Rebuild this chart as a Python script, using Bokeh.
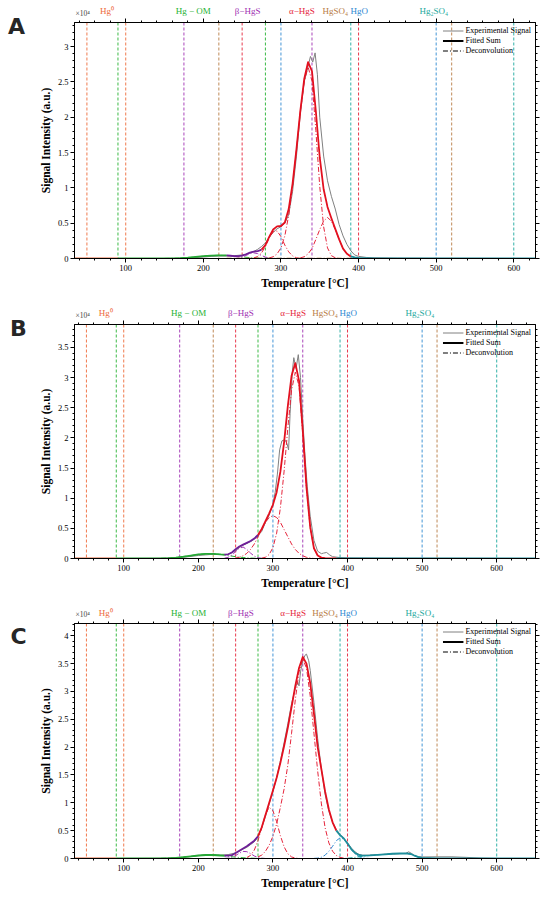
from bokeh.plotting import figure
from bokeh.models import (Range1d, LinearAxis, FixedTicker, Span, Legend,
                          LegendItem, NumeralTickFormatter, CustomLabelingPolicy)
from bokeh.core.properties import value
from bokeh.layouts import column, row
from bokeh.embed import file_html
from bokeh.resources import INLINE

SERIF = "Liberation Serif"

# ---------------- species windows (vertical dashed lines) ----------------
SPECIES = ["Hg\u2070", "Hg \u2212 OM", "\u03b2\u2212HgS", "\u03b1\u2212HgS",
           "HgSO\u2084", "HgO", "Hg\u2082SO\u2084"]
SPECIES_LO = [50, 90, 175, 250, 220, 300, 390]
SPECIES_HI = [100, 280, 340, 400, 520, 500, 600]
SPECIES_LABEL_T = [76, 187, 257, 327, 370, 401, 497]
SPECIES_COLORS = ["#EE6A3A", "#26B232", "#A031B2", "#E5243B", "#B87C45", "#2F89D2", "#1CA99D"]

FIT_COLORS = ["#E0653A", "#27A737", "#6E1F98", "#E3101F", "#1E8E9B"]
EXP_COLOR = "#808080"
DEC_DASH = "5 2 1 2"

X_TICKS = [100, 200, 300, 400, 500, 600]
X_MINOR = list(range(40, 660, 20))

# ---------------- Panel A ----------------
A_XR = (34, 628)
A_YTOP = 3.34
A_YTICKS = [0, 0.5, 1, 1.5, 2, 2.5, 3]
A_EXP_T = [34, 150, 180, 200, 210, 220, 230, 240, 250, 255, 260, 265, 270, 275, 280, 285, 290, 295, 300, 305,
           310, 315, 320, 325, 330, 335, 338, 341, 344, 347, 350, 355, 360, 365, 370, 375, 380, 385, 390, 395,
           400, 410, 420, 450, 500, 628]
A_EXP_Y = [0, 0, .005, .02, .03, .035, .035, .04, .05, .06, .08, .1, .13, .17, .22, .3, .37, .42, .45, .5,
           .62, .95, 1.45, 2.05, 2.5, 2.72, 2.86, 2.78, 2.91, 2.6, 2.0, 1.45, 1.1, .88, .7, .48, .32, .2, .11, .05,
           .03, .015, .01, .005, .003, 0]
A_FIT_T = [34, 90, 100, 150, 160, 170, 180, 190, 200, 210, 220, 230, 235, 240, 245, 250, 255, 260, 265, 270, 275,
           280, 285, 290, 295, 300, 305, 310, 315, 320, 325, 330, 335, 340, 345, 350, 355, 360, 365, 370, 375, 380,
           385, 390, 395, 400, 410, 420, 450, 628]
A_FIT_Y = [0, 0, 0, .001, .0025, .006, .0125, .022, .033, .042, .045, .043, .039, .035, .035, .042, .06, .082, .097,
           .103, .126, .19, .31, .41, .455, .46, .51, .70, 1.06, 1.55, 2.09, 2.54, 2.78, 2.65, 2.08, 1.43, .98, .73,
           .57, .42, .27, .14, .066, .03, .015, .01, .005, .002, 0, 0]
A_FIT_BREAKS = [90, 230, 275, 390]
A_OM_T = [150, 160, 170, 180, 190, 200, 210, 220, 230, 240, 250, 260, 270, 280, 290]
A_OM_Y = [.001, .0025, .006, .0125, .022, .033, .042, .045, .042, .033, .022, .0125, .006, .0025, .001]
A_BHGS_T = [240, 245, 250, 255, 260, 265, 270, 275, 280, 285, 290]
A_BHGS_Y = [.002, .007, .02, .043, .069, .08, .069, .043, .02, .007, .002]
A_AHGS1_T = [265, 270, 275, 280, 285, 290, 295, 300, 305, 310, 315, 320, 325]
A_AHGS1_Y = [.008, .028, .079, .17, .29, .38, .39, .31, .19, .094, .036, .01, 0]
A_AHGS2_T = [285, 290, 295, 300, 305, 310, 315, 320, 325, 330, 335, 340, 345, 350, 355, 360, 365, 370, 375]
A_AHGS2_Y = [.008, .025, .065, .15, .32, .61, 1.02, 1.54, 2.08, 2.51, 2.71, 2.51, 1.81, 1.02, .45, .15, .04, .01, 0]
A_AHGS3_T = [325, 330, 335, 340, 345, 350, 355, 360, 365, 370, 375, 380, 385, 390, 395, 400]
A_AHGS3_Y = [.008, .025, .066, .14, .27, .41, .53, .58, .53, .41, .27, .14, .066, .025, .008, 0]
A_HGSO4_T = [230, 400]
A_HGSO4_Y = [.004, .004]

# ---------------- Panel B ----------------
B_XR = (34, 652)
B_YTOP = 3.88
B_YTICKS = [0, 0.5, 1, 1.5, 2, 2.5, 3, 3.5]
B_EXP_T = [34, 150, 180, 200, 210, 220, 230, 240, 250, 255, 260, 265, 270, 275, 280, 285, 290, 295, 300, 303,
           306, 309, 312, 316, 319, 321, 323, 326, 328, 331, 334, 337, 340, 343, 346, 350, 355, 360, 365, 368,
           372, 376, 380, 390, 400, 450, 652]
B_EXP_Y = [0, .003, .02, .05, .06, .07, .065, .07, .13, .18, .22, .25, .28, .32, .38, .45, .6, .72, .9, 1.1,
           1.4, 1.8, 1.95, 1.97, 1.9, 1.8, 2.4, 3.1, 3.33, 3.15, 3.38, 3.0, 2.3, 1.7, 1.2, .7, .3, .12, .08, .09,
           .1, .06, .03, .015, .01, .005, 0]
B_FIT_T = [34, 90, 100, 150, 160, 170, 180, 190, 200, 210, 220, 230, 235, 240, 245, 250, 255, 260, 265, 270,
           275, 280, 285, 290, 295, 300, 305, 310, 315, 320, 325, 330, 335, 340, 345, 350, 355, 360, 365, 370,
           385, 400, 450, 652]
B_FIT_Y = [0, 0, 0, .003, .007, .016, .03, .049, .067, .078, .078, .067, .063, .07, .1, .155, .2, .23, .26, .29,
           .33, .39, .49, .62, .75, .89, 1.10, 1.44, 1.93, 2.53, 3.03, 3.24, 2.95, 2.12, 1.18, .52, .17, .05, .015,
           .006, .002, .001, 0, 0]
B_FIT_BREAKS = [90, 235, 280, 385]
B_OM_T = [150, 160, 170, 180, 190, 200, 210, 220, 230, 240, 250, 260, 270, 280, 290]
B_OM_Y = [.003, .007, .016, .03, .049, .067, .078, .078, .067, .049, .03, .016, .007, .003, 0]
B_BHGS_T = [235, 240, 245, 250, 255, 260, 265, 270, 275, 280, 285]
B_BHGS_Y = [.005, .02, .056, .115, .17, .19, .15, .09, .04, .013, .003]
B_AHGS1_T = [250, 255, 260, 265, 270, 275, 280, 285, 290, 295, 300, 305, 310, 315, 320, 325, 330, 335, 340, 345,
             350, 355]
B_AHGS1_Y = [.009, .02, .045, .085, .15, .24, .36, .48, .60, .68, .71, .68, .60, .48, .36, .24, .15, .085, .045,
             .02, .008, 0]
B_AHGS2_T = [285, 290, 295, 300, 305, 310, 315, 320, 325, 330, 335, 340, 345, 350, 355, 360, 365, 370]
B_AHGS2_Y = [.006, .021, .067, .18, .42, .84, 1.45, 2.17, 2.79, 3.09, 2.86, 2.07, 1.16, .51, .17, .05, .01, 0]

# ---------------- Panel C ----------------
C_XR = (34, 652)
C_YTOP = 4.22
C_YTICKS = [0, 0.5, 1, 1.5, 2, 2.5, 3, 3.5, 4]
C_EXP_T = [34, 150, 180, 200, 210, 220, 230, 240, 250, 255, 260, 265, 270, 275, 280, 285, 290, 295, 300, 305,
           310, 315, 320, 325, 330, 333, 335, 337, 340, 343, 345, 348, 350, 355, 360, 365, 370, 375, 380, 385,
           390, 395, 400, 405, 410, 415, 420, 430, 440, 450, 460, 470, 478, 482, 486, 490, 495, 500, 520, 540,
           560, 580, 600, 652]
C_EXP_Y = [0, .003, .02, .05, .06, .065, .06, .07, .1, .13, .17, .2, .25, .3, .38, .55, .76, .98, 1.2, 1.45,
           1.75, 2.08, 2.42, 2.78, 3.05, 3.18, 3.1, 3.35, 3.55, 3.65, 3.67, 3.55, 3.38, 2.8, 2.15, 1.6, 1.15, .85,
           .65, .52, .43, .36, .28, .19, .12, .075, .058, .06, .068, .076, .082, .087, .092, .12, .09, .05, .032,
           .028, .03, .03, .02, .006, 0, 0]
C_FIT_T = [34, 90, 100, 150, 160, 170, 180, 190, 200, 210, 220, 230, 235, 240, 245, 250, 255, 260, 265, 270,
           275, 280, 285, 290, 295, 300, 305, 310, 315, 320, 325, 330, 335, 340, 345, 350, 355, 360, 365, 370,
           375, 380, 385, 390, 395, 400, 405, 410, 415, 420, 430, 440, 450, 460, 470, 480, 485, 490, 495, 500,
           520, 540, 652]
C_FIT_Y = [0, 0, 0, .003, .006, .013, .024, .039, .054, .063, .063, .054, .05, .05, .06, .1, .14, .18, .22, .27,
           .32, .4, .56, .78, 1.0, 1.22, 1.45, 1.72, 2.02, 2.35, 2.72, 3.1, 3.42, 3.62, 3.5, 3.15, 2.6, 2.0, 1.6, 1.2,
           .88, .65, .5, .42, .36, .27, .17, .1, .065, .05, .055, .065, .075, .085, .09, .09, .08, .05, .025, .012,
           .003, 0, 0]
C_FIT_BREAKS = [90, 235, 280, 385]
C_OM_T = [150, 160, 170, 180, 190, 200, 210, 220, 230, 240, 250, 260, 270, 280, 290]
C_OM_Y = [.003, .006, .013, .024, .039, .054, .063, .063, .054, .039, .024, .013, .006, .003, 0]
C_BHGS_T = [235, 240, 245, 250, 255, 260, 265, 270, 275, 280, 285, 290]
C_BHGS_Y = [.002, .007, .023, .053, .096, .127, .123, .088, .046, .018, .005, 0]
C_AHGS1_T = [265, 270, 275, 280, 285, 290, 295, 300, 305, 310, 315, 320, 325, 330, 335]
C_AHGS1_Y = [.017, .056, .15, .32, .56, .79, .92, .86, .66, .41, .21, .085, .028, .008, 0]
C_AHGS2_T = [280, 285, 290, 295, 300, 305, 310, 315, 320, 325, 330, 335, 340, 345, 350, 355, 360, 365, 370, 375,
             380, 385, 390, 395, 400]
C_AHGS2_Y = [.03, .06, .13, .24, .40, .62, .92, 1.25, 1.68, 2.25, 2.85, 3.35, 3.58, 3.42, 2.92, 2.25, 1.57, .98,
             .55, .28, .13, .054, .02, .007, 0]
C_HGO_T = [355, 360, 365, 370, 375, 380, 385, 390, 395, 400, 405, 410, 415, 420, 425, 430]
C_HGO_Y = [.002, .007, .023, .06, .13, .22, .32, .37, .35, .26, .165, .083, .034, .011, .003, 0]
C_HG2SO4_T = [400, 410, 420, 430, 440, 450, 460, 470, 480, 485, 490, 495, 500, 510, 520]
C_HG2SO4_Y = [.005, .02, .04, .055, .065, .075, .085, .09, .09, .08, .05, .025, .01, .003, 0]

LEGEND_LABELS = ["Experimental Signal", "Fitted Sum", "Deconvolution"]

LETTER_W = 36
MAIN_W = 506
BORDER_L = 37
BORDER_R = 7
TOP_AXIS_PAD = 4


def style_axis(ax, show):
    ax.axis_line_color = "black"
    ax.axis_line_width = 1
    ax.major_tick_line_color = "black"
    ax.minor_tick_line_color = "black"
    ax.major_tick_in = 0
    ax.major_tick_out = 4
    ax.minor_tick_in = 0
    ax.minor_tick_out = 2
    if show:
        ax.major_label_text_font = SERIF
        ax.major_label_text_font_size = "8.5px"
        ax.major_label_text_color = "black"
        ax.major_label_standoff = 2
        ax.axis_label_text_font = SERIF
        ax.axis_label_text_font_style = "bold"
        ax.axis_label_text_font_size = "11.5px"
        ax.axis_label_text_color = "black"
        ax.axis_label_standoff = 3
    else:
        # tick marks only: no label is kept by the labelling policy
        ax.major_label_policy = CustomLabelingPolicy(code="return new Set()")
        ax.major_label_text_font_size = "0px"
        ax.major_label_standoff = 0


def bare_figure(width, height, x_range, y_range, left=0, right=0):
    f = figure(width=width, height=height, x_range=x_range, y_range=y_range,
               output_backend="svg", toolbar_location=None,
               x_axis_location=None, y_axis_location=None,
               min_border_left=left, min_border_right=right,
               min_border_top=0, min_border_bottom=0)
    f.xgrid.visible = False
    f.ygrid.visible = False
    f.outline_line_color = None
    f.background_fill_color = "white"
    f.border_fill_color = "white"
    return f


def make_panel(letter, xr, ytop, yticks, exp_t, exp_y, fit_t, fit_y, breaks, decs,
               hdr_h, main_h, bb, label_gap, letter_xy):
    xrange = Range1d(*xr)
    p = figure(width=MAIN_W, height=main_h, x_range=xrange, y_range=Range1d(0, ytop),
               output_backend="svg", toolbar_location=None,
               min_border_left=BORDER_L, min_border_right=BORDER_R,
               min_border_top=TOP_AXIS_PAD, min_border_bottom=bb)
    p.xgrid.visible = False
    p.ygrid.visible = False
    p.outline_line_color = "black"
    p.background_fill_color = "white"
    p.border_fill_color = "white"

    yminor = [round(0.1 * i, 1) for i in range(0, int(ytop * 10) + 1)]
    p.xaxis.ticker = FixedTicker(ticks=X_TICKS, minor_ticks=X_MINOR)
    p.yaxis.ticker = FixedTicker(ticks=yticks, minor_ticks=yminor)
    p.yaxis.formatter = NumeralTickFormatter(format="0.[0]")
    p.xaxis.axis_label = "Temperature [\u00b0C]"
    p.yaxis.axis_label = "Signal Intensity (a.u.)"
    style_axis(p.xaxis[0], True)
    style_axis(p.yaxis[0], True)
    top = LinearAxis(ticker=FixedTicker(ticks=X_TICKS, minor_ticks=X_MINOR))
    right = LinearAxis(ticker=FixedTicker(ticks=yticks, minor_ticks=yminor))
    style_axis(top, False)
    style_axis(right, False)
    p.add_layout(top, "above")
    p.add_layout(right, "right")

    # species window lines
    for lo, hi, c in zip(SPECIES_LO, SPECIES_HI, SPECIES_COLORS):
        for t in (lo, hi):
            p.add_layout(Span(location=t, dimension="height", line_color=c, line_width=1,
                              line_dash="3 2", line_alpha=0.9, level="underlay"))

    # experimental signal
    p.line(exp_t, exp_y, line_color=EXP_COLOR, line_width=1)

    # deconvolution components
    for t, y, c in decs:
        p.line(t, y, line_color=c, line_width=1, line_dash=DEC_DASH)

    # fitted sum, coloured by region
    bounds = [fit_t[0]] + list(breaks) + [fit_t[-1]]
    for k in range(len(bounds) - 1):
        lo, hi = bounds[k], bounds[k + 1]
        idx = [i for i, t in enumerate(fit_t) if lo <= t <= hi]
        p.line([fit_t[i] for i in idx], [fit_y[i] for i in idx],
               line_color=FIT_COLORS[k], line_width=1.8, line_join="round")

    # legend style samples (kept outside the visible range)
    off_x = [xr[0] - 100, xr[0] - 90]
    off_y = [-1, -1]
    r1 = p.line(off_x, off_y, line_color=EXP_COLOR, line_width=1)
    r2 = p.line(off_x, off_y, line_color="black", line_width=2)
    r3 = p.line(off_x, off_y, line_color="black", line_width=1, line_dash=DEC_DASH)
    legend = Legend(items=[LegendItem(label=LEGEND_LABELS[0], renderers=[r1]),
                           LegendItem(label=LEGEND_LABELS[1], renderers=[r2]),
                           LegendItem(label=LEGEND_LABELS[2], renderers=[r3])],
                    location="top_right")
    legend.border_line_color = None
    legend.background_fill_alpha = 0
    legend.label_text_font = SERIF
    legend.label_text_font_size = "8px"
    legend.label_text_color = "black"
    legend.glyph_width = 21
    legend.glyph_height = 9
    legend.label_height = 9
    legend.label_standoff = 2
    legend.spacing = 1
    legend.padding = 3
    legend.margin = 4
    p.add_layout(legend)

    # header strip above the frame: species names and the x10^4 multiplier
    # (its y coordinate counts pixels above the frame's top edge)
    hdr = bare_figure(MAIN_W, hdr_h, xrange, Range1d(TOP_AXIS_PAD, TOP_AXIS_PAD + hdr_h),
                      left=BORDER_L, right=BORDER_R)
    hdr.text(x=SPECIES_LABEL_T, y=[label_gap] * len(SPECIES), text=SPECIES,
             text_color=SPECIES_COLORS, text_font=value(SERIF), text_font_size=value("9px"),
             text_align="center", text_baseline="bottom")
    fw = MAIN_W - BORDER_L - BORDER_R
    hdr.text(x=[xr[0] + 1 * (xr[1] - xr[0]) / fw], y=[TOP_AXIS_PAD + 0.5], text=["\u00d710\u2074"],
             text_color="#444444", text_font=value(SERIF), text_font_size=value("7.5px"),
             text_align="left", text_baseline="bottom")

    # letter column at the left (coordinates in pixels of the panel)
    H = hdr_h + main_h
    lf = bare_figure(LETTER_W, H, Range1d(0, LETTER_W), Range1d(0, H))
    lf.text(x=[letter_xy[0]], y=[H - letter_xy[1]], text=[letter], text_color="#262626",
            text_font=value("DejaVu Sans"), text_font_style="bold", text_font_size=value("22px"),
            text_align="center", text_baseline="middle")
    return row(lf, column(hdr, p, spacing=0), spacing=0)


pA = make_panel("A", A_XR, A_YTOP, A_YTICKS, A_EXP_T, A_EXP_Y, A_FIT_T, A_FIT_Y, A_FIT_BREAKS,
                [(A_OM_T, A_OM_Y, SPECIES_COLORS[1]), (A_BHGS_T, A_BHGS_Y, SPECIES_COLORS[2]),
                 (A_HGSO4_T, A_HGSO4_Y, SPECIES_COLORS[4]),
                 (A_AHGS1_T, A_AHGS1_Y, SPECIES_COLORS[3]), (A_AHGS2_T, A_AHGS2_Y, SPECIES_COLORS[3]),
                 (A_AHGS3_T, A_AHGS3_Y, SPECIES_COLORS[3])],
                18, 288, 48, 6.5, (16, 26))
pB = make_panel("B", B_XR, B_YTOP, B_YTICKS, B_EXP_T, B_EXP_Y, B_FIT_T, B_FIT_Y, B_FIT_BREAKS,
                [(B_OM_T, B_OM_Y, SPECIES_COLORS[1]), (B_BHGS_T, B_BHGS_Y, SPECIES_COLORS[2]),
                 (B_AHGS1_T, B_AHGS1_Y, SPECIES_COLORS[3]), (B_AHGS2_T, B_AHGS2_Y, SPECIES_COLORS[3])],
                14, 283, 45, 7.0, (18, 22))
pC = make_panel("C", C_XR, C_YTOP, C_YTICKS, C_EXP_T, C_EXP_Y, C_FIT_T, C_FIT_Y, C_FIT_BREAKS,
                [(C_OM_T, C_OM_Y, SPECIES_COLORS[1]), (C_BHGS_T, C_BHGS_Y, SPECIES_COLORS[2]),
                 (C_AHGS1_T, C_AHGS1_Y, SPECIES_COLORS[3]), (C_AHGS2_T, C_AHGS2_Y, SPECIES_COLORS[3]),
                 (C_HGO_T, C_HGO_Y, SPECIES_COLORS[5]), (C_HG2SO4_T, C_HG2SO4_Y, SPECIES_COLORS[6])],
                16, 275, 36, 6.0, (18, 33))

layout = column(pA, pB, pC, spacing=0)
open("out.html", "w").write(file_html(layout, INLINE))
